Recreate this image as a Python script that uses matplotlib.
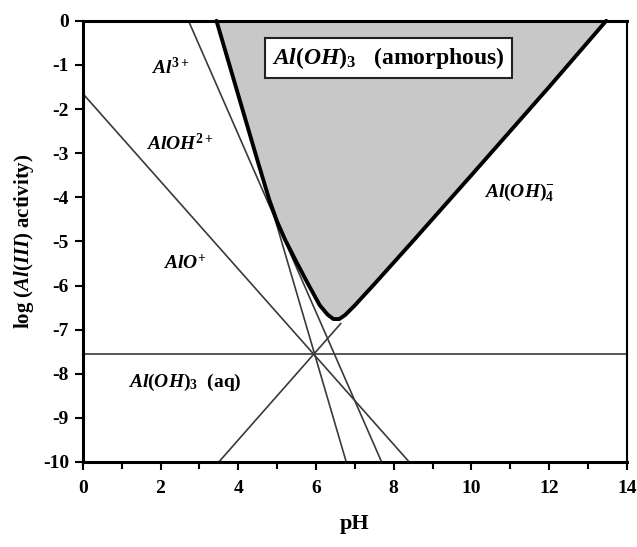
import matplotlib
matplotlib.use("Agg")
import matplotlib.pyplot as plt
from matplotlib.ticker import MultipleLocator

plt.rcParams['font.family'] = ['Liberation Serif', 'DejaVu Serif']
plt.rcParams['mathtext.fontset'] = 'custom'
plt.rcParams['mathtext.it'] = 'Liberation Serif:italic:bold'
plt.rcParams['mathtext.rm'] = 'Liberation Serif:bold'
plt.rcParams['mathtext.bf'] = 'Liberation Serif:bold'

# Species boundary lines (pH endpoints, log activity endpoints)
al3_ph = [3.45, 6.78]
al3_log = [0.0, -10.0]
aloh_ph = [2.72, 7.69]
aloh_log = [0.0, -10.0]
alo_ph = [0.0, 8.4]
alo_log = [-1.65, -10.0]
aq_ph = [0.0, 14.0]
aq_log = [-7.55, -7.55]
aloh4_ph = [3.5, 6.65]
aloh4_log = [-10.0, -6.85]

# Solubility curve of amorphous Al(OH)3
curve_ph = [3.44, 4.0, 4.5, 4.8, 5.0, 5.2, 5.5, 5.8, 6.1, 6.3, 6.45, 6.6, 6.75,
            7.0, 7.5, 8.5, 10.0, 12.0, 13.47]
curve_log = [0.0, -1.68, -3.18, -4.06, -4.55, -4.95, -5.47, -5.97, -6.45, -6.66,
             -6.76, -6.76, -6.67, -6.45, -5.97, -4.99, -3.5, -1.5, 0.0]

x_ticks = [0, 2, 4, 6, 8, 10, 12, 14]
y_ticks = [0, -1, -2, -3, -4, -5, -6, -7, -8, -9, -10]

fig = plt.figure(figsize=(6.37, 5.47), dpi=100)
ax = fig.add_axes([0.130, 0.1554, 0.854, 0.8066])
ax.set_xlim(0, 14)
ax.set_ylim(-10, 0)

ax.fill_between(curve_ph, curve_log, 0, color='#c8c8c8', lw=0, zorder=1)

thin = dict(color='#3a3a3a', lw=1.2, zorder=2, solid_capstyle='butt')
ax.plot(al3_ph, al3_log, **thin)
ax.plot(aloh_ph, aloh_log, **thin)
ax.plot(alo_ph, alo_log, **thin)
ax.plot(aq_ph, aq_log, **thin)
ax.plot(aloh4_ph, aloh4_log, **thin)

ax.plot(curve_ph, curve_log, color='black', lw=2.8, zorder=3,
        solid_joinstyle='round', solid_capstyle='round', clip_on=False)

ax.set_xticks(x_ticks)
ax.set_yticks(y_ticks)
ax.set_xticklabels([str(v) for v in x_ticks], fontweight='bold')
ax.set_yticklabels([str(v) for v in y_ticks], fontweight='bold')
ax.xaxis.set_minor_locator(MultipleLocator(1))
ax.tick_params(axis='both', which='both', direction='out', labelsize=14)
ax.tick_params(axis='both', which='major', length=6, width=1.5)
ax.tick_params(axis='x', which='minor', length=5, width=1.5)
ax.tick_params(axis='x', which='major', pad=7)
ax.tick_params(axis='y', which='major', pad=4)

for s in ['left', 'bottom', 'top']:
    ax.spines[s].set_linewidth(2.2)
ax.spines['right'].set_linewidth(1.5)

ax.set_xlabel('pH', fontsize=16, fontweight='bold', labelpad=12)
ax.set_ylabel(r'log ($Al(III)$ activity)', fontsize=15, fontweight='bold', labelpad=5)

lbl = dict(fontsize=14, ha='center', va='center', zorder=5, fontweight='bold')
ax.text(2.25, -1.05, r'$Al^{3+}$', **lbl)
ax.text(2.5, -2.78, r'$AlOH^{2+}$', **lbl)
ax.text(2.62, -5.5, r'$AlO^{+}$', **lbl)
ax.text(2.62, -8.2, r'$Al(OH)_3$  (aq)', **lbl)
ax.text(11.25, -3.88, r'$Al(OH)_4^{-}$', **lbl)

ax.text(7.87, -0.84, r'$Al(OH)_3$   (amorphous)', fontsize=17, ha='center', va='center',
        zorder=6, fontweight='bold',
        bbox=dict(boxstyle='square,pad=0.3', fc='white', ec='#222222', lw=1.5))

fig.savefig('out.png', dpi=100)
